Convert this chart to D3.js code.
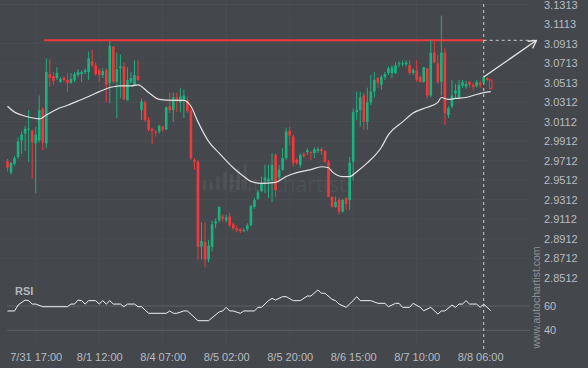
<!DOCTYPE html>
<html>
<head>
<meta charset="utf-8">
<script src="https://cdn.jsdelivr.net/npm/d3@7"></script>
<style>
  html, body { margin: 0; padding: 0; background: #44474c; }
  svg { display: block; }
</style>
</head>
<body>
<div id="chart"></div>
<script>
// hourly candles
const opens = [
  2.971,2.959,2.968,2.975,2.992,2.999,3.003,3.002,2.989,2.992,
  3.024,2.989,3.060,3.058,3.056,3.052,3.056,3.054,3.051,3.054,
  3.059,3.060,3.062,3.062,3.073,3.069,3.064,3.059,3.064,3.051,
  3.088,3.052,3.066,3.068,3.033,3.052,3.049,3.058,3.023,3.031,
  3.013,3.004,3.001,3.001,3.006,3.003,3.027,3.023,3.036,3.031,
  3.033,3.033,3.023,2.972,2.970,2.883,2.888,2.870,2.883,2.907,
  2.910,2.914,2.910,2.914,2.906,2.902,2.901,2.899,2.901,2.905,
  2.924,2.932,2.940,2.951,2.950,2.951,2.977,2.954,2.962,2.974,
  3.002,2.996,2.972,2.967,2.978,2.980,2.980,2.979,2.981,2.983,
  2.981,2.970,2.934,2.924,2.931,2.919,2.933,2.931,2.970,3.021,
  3.023,3.038,3.011,3.031,3.042,3.056,3.049,3.057,3.061,3.061,
  3.061,3.070,3.070,3.070,3.069,3.061,3.064,3.057,3.052,3.066,
  3.038,3.082,3.071,3.052,3.082,3.018,3.027,3.040,3.036,3.048,
  3.047,3.052,3.049,3.048,3.051,3.051,3.056,3.054
];
const highs = [
  2.973,2.970,2.976,2.995,3.001,3.007,3.023,3.003,3.006,3.038,
  3.026,3.076,3.075,3.062,3.067,3.057,3.058,3.061,3.061,3.062,
  3.065,3.064,3.066,3.083,3.085,3.072,3.066,3.066,3.066,3.094,
  3.089,3.082,3.080,3.072,3.067,3.062,3.074,3.074,3.035,3.033,
  3.016,3.005,3.003,3.008,3.007,3.027,3.041,3.041,3.041,3.046,
  3.044,3.037,3.026,2.974,2.972,2.908,2.908,2.890,2.910,2.912,
  2.924,2.916,2.916,2.918,2.908,2.905,2.902,2.902,2.907,2.926,
  2.933,2.941,2.955,2.967,2.967,2.979,2.979,2.967,2.984,3.005,
  3.006,2.998,2.974,2.979,2.980,2.984,2.981,2.985,2.985,2.985,
  2.982,2.972,2.935,2.934,2.933,2.932,2.934,2.975,3.025,3.042,
  3.042,3.041,3.046,3.059,3.062,3.057,3.059,3.062,3.068,3.069,
  3.072,3.073,3.074,3.074,3.074,3.066,3.074,3.059,3.067,3.066,
  3.095,3.095,3.080,3.120,3.087,3.027,3.054,3.050,3.054,3.054,
  3.053,3.053,3.051,3.054,3.053,3.059,3.057,3.054
];
const lows = [
  2.960,2.957,2.966,2.973,2.978,2.981,2.970,2.953,2.938,2.990,
  2.982,2.984,3.047,3.049,3.054,3.051,3.052,3.042,3.050,3.052,
  3.057,3.052,3.060,3.054,3.067,3.058,3.052,3.056,3.031,3.030,
  3.050,3.015,3.035,3.033,3.033,3.050,3.048,3.053,3.013,3.011,
  3.001,2.988,2.996,2.999,3.001,3.003,3.020,3.011,3.021,3.021,
  3.015,3.020,2.972,2.962,2.870,2.870,2.862,2.867,2.878,2.902,
  2.908,2.909,2.908,2.903,2.900,2.898,2.897,2.898,2.899,2.904,
  2.922,2.931,2.939,2.938,2.933,2.929,2.934,2.951,2.961,2.972,
  2.987,2.965,2.967,2.964,2.974,2.977,2.972,2.974,2.979,2.977,
  2.969,2.934,2.923,2.923,2.916,2.918,2.921,2.921,2.951,3.013,
  3.006,3.003,3.003,3.028,3.036,3.046,3.044,3.054,3.059,3.056,
  3.060,3.067,3.068,3.068,3.059,3.059,3.052,3.051,3.051,3.035,
  3.036,3.071,3.050,3.038,3.008,3.015,3.025,3.035,3.034,3.046,
  3.045,3.046,3.043,3.046,3.046,3.049,3.053,3.045
];
const closes = [
  2.964,2.969,2.974,2.991,2.998,3.004,3.004,2.990,2.998,3.023,
  2.990,3.062,3.056,3.053,3.061,3.055,3.054,3.051,3.055,3.060,
  3.062,3.062,3.064,3.076,3.069,3.060,3.059,3.063,3.049,3.089,
  3.052,3.065,3.068,3.034,3.054,3.056,3.059,3.054,3.032,3.013,
  3.003,3.002,3.000,3.007,3.003,3.026,3.023,3.036,3.033,3.037,
  3.038,3.022,2.974,2.970,2.883,2.889,2.870,2.884,2.906,2.909,
  2.924,2.912,2.913,2.905,2.902,2.900,2.899,2.900,2.905,2.925,
  2.931,2.939,2.948,2.954,2.953,2.967,2.941,2.962,2.974,3.001,
  2.997,2.969,2.969,2.977,2.976,2.982,2.979,2.983,2.983,2.981,
  2.970,2.934,2.924,2.929,2.919,2.931,2.927,2.969,3.021,3.023,
  3.036,3.011,3.031,3.042,3.054,3.051,3.057,3.060,3.066,3.067,
  3.069,3.071,3.071,3.072,3.061,3.064,3.054,3.052,3.067,3.038,
  3.082,3.072,3.052,3.082,3.020,3.025,3.038,3.043,3.049,3.052,
  3.050,3.049,3.047,3.052,3.049,3.057,3.054,3.045
];
const lastBar = 135;   // bar under the dashed "now" line

// moving average (index, value)
const maIdx = [0,2,4,6,9,11,14,17,21,23,26,28,30,32,35,37,40,43,47,50,52,54,57,60,64,67,69,72,76,79,82,86,89,91,92,95,97,99,102,106,108,112,115,119,122,123,125,127,130,132,135,137];
const maVal = [3.027,3.021,3.018,3.016,3.014,3.018,3.024,3.028,3.034,3.037,3.042,3.045,3.047,3.048,3.048,3.049,3.041,3.034,3.033,3.033,3.027,3.011,2.991,2.979,2.964,2.955,2.950,2.948,2.949,2.955,2.959,2.962,2.965,2.964,2.960,2.955,2.955,2.960,2.969,2.985,2.998,3.011,3.020,3.026,3.031,3.036,3.034,3.035,3.036,3.038,3.041,3.042];

// RSI (index, value)
const rsiIdx = [0,2,3,5,6,7,8,10,17,18,19,20,21,22,23,25,26,27,28,29,30,32,33,34,36,37,38,40,45,46,47,48,50,51,54,57,60,61,62,63,64,66,67,70,71,72,74,75,76,78,79,81,83,85,86,88,89,90,92,93,94,96,98,99,100,103,105,107,108,110,111,112,114,115,117,118,120,122,123,124,126,127,128,129,130,131,133,134,135,137];
const rsiVal = [55.9,55.9,60.8,64.9,64.4,61.6,61.6,59.4,59.4,61.6,61.6,64.9,64.4,61.6,64.4,64.4,61.6,64.4,61.6,64.4,61.6,61.6,59.4,61.6,61.6,59.4,59.4,54.0,54.0,55.9,54.0,54.0,55.9,55.9,47.9,47.9,55.1,55.9,58.9,55.9,55.9,54.0,55.9,55.9,58.9,58.9,64.4,66.3,64.9,67.7,67.7,64.4,64.4,68.2,68.2,73.2,70.5,70.5,65.5,64.4,61.6,58.9,64.4,67.7,64.4,64.4,62.2,62.2,59.4,62.2,62.2,58.9,58.9,62.2,58.9,56.1,58.9,53.4,55.9,55.9,60.8,58.9,61.6,61.6,64.4,61.6,61.6,58.9,61.6,56.1];

const resistance = 3.0946;
const levelFromIdx = 10.4;
const targetIdx = 150;

const priceTicks = [3.1313,3.1113,3.0913,3.0713,3.0513,3.0312,3.0112,2.9912,2.9712,2.9512,2.9312,2.9112,2.8912,2.8712,2.8512];
const rsiTicks = [60, 40];
const timeIdx = [8,26,44,62,80,98,116,134];
const timeLabels = ["7/31 17:00","8/1 12:00","8/4 07:00","8/5 02:00","8/5 20:00","8/6 15:00","8/7 10:00","8/8 06:00"];

const width = 588, height = 368;
const green = "#17b47f", red = "#f2383a", bg = "#44474c";
const font = "'Liberation Sans', Arial, sans-serif";

const x = d3.scaleLinear().domain([0, 135]).range([7.5, 483.7]);
const y = d3.scaleLinear().domain([2.8712, 3.1313]).range([258.3, 4.5]);
const yRsi = d3.scaleLinear().domain([40, 60]).range([330.3, 306]);

const svg = d3.select("#chart").append("svg")
  .attr("width", width).attr("height", height)
  .attr("viewBox", [0, 0, width, height])
  .style("background", bg);

// faint grid
svg.append("g").selectAll("line").data(timeIdx).join("line")
  .attr("x1", d => x(d)).attr("x2", d => x(d))
  .attr("y1", 0).attr("y2", 345)
  .attr("stroke", "#4a4d52").attr("stroke-width", 1);
svg.append("g").selectAll("line").data(priceTicks.slice(0, 14)).join("line")
  .attr("x1", 0).attr("x2", 530)
  .attr("y1", d => y(d)).attr("y2", d => y(d))
  .attr("stroke", "#4a4d52").attr("stroke-width", 1);

// watermark
const wm = svg.append("g").attr("fill", "#ffffff").attr("fill-opacity", 0.06);
const wmBars = [6, 10, 8, 14, 18, 16, 22, 26];
wm.selectAll("rect").data(wmBars).join("rect")
  .attr("x", (d, i) => 196 + i * 6.8).attr("width", 3.2)
  .attr("y", d => 190 - d).attr("height", d => d).attr("rx", 1.5);
wm.append("text").attr("x", 228).attr("y", 192)
  .attr("font-family", "'Open Sans', " + font).attr("font-size", 21)
  .text("autochartist");

// vertical url
svg.append("text")
  .attr("transform", "translate(540,297.5) rotate(-90)")
  .attr("text-anchor", "middle")
  .attr("font-family", font).attr("font-size", 10.5)
  .attr("fill", "#8e9196")
  .text("www.autochartist.com");

// RSI guides
svg.append("g").selectAll("line").data(rsiTicks).join("line")
  .attr("x1", 7).attr("x2", 530)
  .attr("y1", d => yRsi(d)).attr("y2", d => yRsi(d))
  .attr("stroke", "#5d6065").attr("stroke-width", 1);

// resistance level
svg.append("line")
  .attr("x1", x(levelFromIdx)).attr("x2", x(lastBar))
  .attr("y1", y(resistance)).attr("y2", y(resistance))
  .attr("stroke", red).attr("stroke-width", 2);

// now line + extension
svg.append("line")
  .attr("x1", x(lastBar)).attr("x2", x(lastBar))
  .attr("y1", 4).attr("y2", 350)
  .attr("stroke", "#cfcfcf").attr("stroke-width", 1).attr("stroke-dasharray", "3,3");
svg.append("line")
  .attr("x1", x(lastBar)).attr("x2", x(targetIdx))
  .attr("y1", y(resistance)).attr("y2", y(resistance))
  .attr("stroke", "#cfcfcf").attr("stroke-width", 1).attr("stroke-dasharray", "3,3");

// candles
const bars = d3.range(opens.length).map(i => ({i, o: opens[i], h: highs[i], l: lows[i], c: closes[i]}));
const cg = svg.append("g");
cg.selectAll("line").data(bars).join("line")
  .attr("x1", d => x(d.i)).attr("x2", d => x(d.i))
  .attr("y1", d => y(d.h)).attr("y2", d => y(d.l))
  .attr("stroke", d => d.c >= d.o ? green : red).attr("stroke-width", 1);
cg.selectAll("rect").data(bars).join("rect")
  .attr("x", d => x(d.i) - 1.3).attr("width", 2.6)
  .attr("y", d => y(Math.max(d.o, d.c)))
  .attr("height", d => Math.max(1, y(Math.min(d.o, d.c)) - y(Math.max(d.o, d.c))))
  .attr("fill", d => d.i > lastBar + 1 ? bg : (d.c >= d.o ? green : red))
  .attr("stroke", d => d.i > lastBar + 1 ? red : "none")
  .attr("stroke-width", 1);

// moving average
const maLine = d3.line().x(d => x(d[0])).y(d => y(d[1])).curve(d3.curveMonotoneX);
svg.append("path")
  .attr("d", maLine(maIdx.map((d, i) => [d, maVal[i]])))
  .attr("fill", "none").attr("stroke", "#e2e2e2").attr("stroke-width", 1.2);

// forecast arrow
const ax1 = x(lastBar), ay1 = y(closes[lastBar]);
const ax2 = x(targetIdx), ay2 = y(resistance);
const ang = Math.atan2(ay2 - ay1, ax2 - ax1);
const arrow = svg.append("g").attr("stroke", "#e6e6e6").attr("stroke-width", 1.3).attr("fill", "none");
arrow.append("line").attr("x1", ax1).attr("y1", ay1).attr("x2", ax2).attr("y2", ay2);
arrow.append("path").attr("d", [-0.5, 0.5].map(a =>
  `M${ax2},${ay2}L${ax2 - 9 * Math.cos(ang + a)},${ay2 - 9 * Math.sin(ang + a)}`).join(""));

// RSI line
const rsiLine = d3.line().x(d => x(d[0])).y(d => yRsi(d[1]));
svg.append("path")
  .attr("d", rsiLine(rsiIdx.map((d, i) => [d, rsiVal[i]])))
  .attr("fill", "none").attr("stroke", "#f0f0f0").attr("stroke-width", 1);
svg.append("text").attr("x", 15).attr("y", 295)
  .attr("font-family", font).attr("font-size", 11).attr("font-weight", "bold")
  .attr("fill", "#b4b7bb").text("RSI");

// axes
const styleAxis = g => {
  g.select(".domain").remove();
  g.selectAll("text").attr("fill", "#b9bcc0").attr("font-family", font).attr("font-size", 11);
};
svg.append("g").attr("transform", "translate(544,0)")
  .call(d3.axisRight(y).tickValues(priceTicks).tickFormat(d3.format(".4f")).tickSize(0).tickPadding(0))
  .call(styleAxis);
svg.append("g").attr("transform", "translate(544,0)")
  .call(d3.axisRight(yRsi).tickValues(rsiTicks).tickSize(0).tickPadding(0))
  .call(styleAxis);
svg.append("g").attr("transform", "translate(0,350)")
  .call(d3.axisBottom(x).tickValues(timeIdx).tickFormat((d, i) => timeLabels[i]).tickSize(0).tickPadding(3))
  .call(styleAxis);
</script>
</body>
</html>
